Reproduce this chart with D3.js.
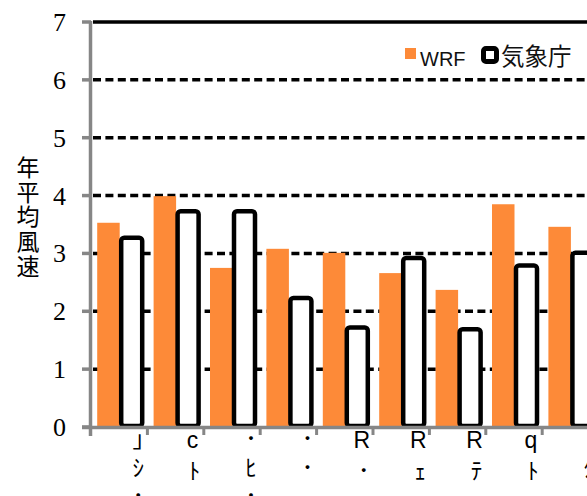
<!DOCTYPE html>
<html lang="en"><head><meta charset="utf-8">
<script src="https://cdn.jsdelivr.net/npm/d3@7"></script>
<style>html,body{margin:0;padding:0;background:#fff;overflow:hidden}
.vt{writing-mode:vertical-rl;text-orientation:upright;}
</style>
</head><body>
<script>
const categories = ["｣ｼ･", "cﾄ･", "･ﾋ･", "･･", "R･･", "Rｪ･", "Rﾃ･", "qﾄ･", "･ﾀ･"];
const wrfValues = [3.53, 3.99, 2.75, 3.08, 3.01, 2.66, 2.37, 3.85, 3.46];
const jmaValues = [3.27, 3.73, 3.73, 2.23, 1.72, 2.92, 1.69, 2.79, 3.01];
const yTicks = [0, 1, 2, 3, 4, 5, 6, 7];
const seriesNames = ["WRF", "気象庁"];
const yTitle = "年平均風速";

const W = 587, H = 496;
const svg = d3.select("body").append("svg").attr("width", W).attr("height", H);

const x = d3.scaleBand().domain(categories).range([91, 91 + 56.4 * categories.length]).padding(0);
const y = d3.scaleLinear().domain([0, 7]).range([427, 22]);

// gridlines
svg.append("g").selectAll("line").data(yTicks.filter(d => d > 0)).join("line")
  .attr("x1", 93).attr("x2", W + 20)
  .attr("y1", d => y(d)).attr("y2", d => y(d))
  .attr("stroke", "#000").attr("stroke-width", 3.5)
  .attr("stroke-dasharray", d => d === 7 ? null : "8,4.4");

// bars
const g = svg.append("g");
g.selectAll("rect.wrf").data(categories).join("rect").attr("class", "wrf")
  .attr("x", d => x(d) + x.bandwidth() / 2 - 22)
  .attr("width", 22.5)
  .attr("y", (d, i) => y(wrfValues[i]))
  .attr("height", (d, i) => y(0) - y(wrfValues[i]))
  .attr("fill", "#fd8a38");
g.selectAll("rect.jma").data(categories).join("rect").attr("class", "jma")
  .attr("x", d => x(d) + x.bandwidth() / 2 + 2)
  .attr("width", 21)
  .attr("y", (d, i) => y(jmaValues[i]))
  .attr("height", (d, i) => y(0) - y(jmaValues[i]) - 1)
  .attr("rx", 3)
  .attr("fill", "#fff").attr("stroke", "#000").attr("stroke-width", 4.5);

// axes
const axisColor = "#868686";
svg.append("line").attr("x1", 90.5).attr("x2", 90.5).attr("y1", y(7) - 1).attr("y2", y(0) + 9)
  .attr("stroke", axisColor).attr("stroke-width", 3.5);
svg.append("g").selectAll("line").data(yTicks).join("line")
  .attr("x1", 82).attr("x2", 91).attr("y1", d => y(d)).attr("y2", d => y(d))
  .attr("stroke", axisColor).attr("stroke-width", 3.5);
svg.append("line").attr("x1", 82).attr("x2", W + 20).attr("y1", y(0) + 0.5).attr("y2", y(0) + 0.5)
  .attr("stroke", axisColor).attr("stroke-width", 3.5);
svg.append("g").selectAll("line").data(categories.slice(1)).join("line")
  .attr("x1", d => x(d)).attr("x2", d => x(d)).attr("y1", y(0)).attr("y2", y(0) + 8)
  .attr("stroke", axisColor).attr("stroke-width", 3);

// y tick labels
svg.append("g").selectAll("text").data(yTicks).join("text")
  .attr("x", 66).attr("y", d => y(d) + 9)
  .attr("text-anchor", "end")
  .attr("font-family", "Liberation Serif")
  .attr("font-size", 26).attr("fill", "#000")
  .text(d => d);

// x labels (vertical, upright characters)
svg.append("g").selectAll("text").data(categories).join("text")
  .attr("class", "vt")
  .attr("x", d => x(d) + x.bandwidth() / 2 + 17)
  .attr("y", 427)
  .attr("font-family", "Liberation Sans, Noto Sans CJK JP")
  .attr("font-size", 23)
  .attr("letter-spacing", 5.5)
  .attr("fill", "#000")
  .text(d => d);

// y title (vertical)
svg.append("text")
  .attr("class", "vt")
  .attr("x", 28).attr("y", 155.5)
  .attr("font-family", "Noto Sans CJK JP")
  .attr("font-size", 23)
  .attr("letter-spacing", 1.8)
  .attr("fill", "#000")
  .text(yTitle);

// legend
svg.append("rect").attr("x", 405).attr("y", 48).attr("width", 11).attr("height", 11).attr("fill", "#fd8a38");
svg.append("text").attr("x", 420).attr("y", 66)
  .attr("font-family", "Liberation Sans").attr("font-size", 20).attr("fill", "#111")
  .text(seriesNames[0]);
svg.append("rect").attr("x", 483.5).attr("y", 48.5).attr("width", 13).attr("height", 13).attr("rx", 2.5)
  .attr("fill", "#fff").attr("stroke", "#000").attr("stroke-width", 5);
svg.append("text").attr("x", 501).attr("y", 65)
  .attr("font-family", "Noto Sans CJK JP").attr("font-size", 23.5).attr("fill", "#111")
  .text(seriesNames[1]);
</script>
</body></html>
